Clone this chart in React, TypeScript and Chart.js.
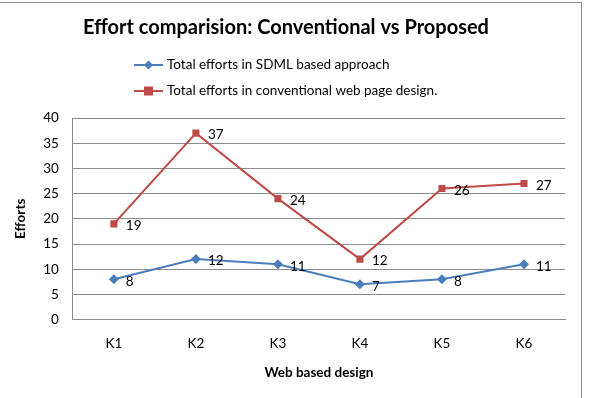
import React, { useEffect, useRef } from "react";
import { Chart, registerables } from "chart.js";

Chart.register(...registerables);

const categories = ["K1", "K2", "K3", "K4", "K5", "K6"];
const sdmlEfforts = [8, 12, 11, 7, 8, 11];
const conventionalEfforts = [19, 37, 24, 12, 26, 27];
const seriesNames = [
  "Total efforts in SDML based approach",
  "Total efforts in conventional web page design.",
];
const yTicks = [0, 5, 10, 15, 20, 25, 30, 35, 40];

const FONT = "Lato, 'Open Sans', sans-serif";
const BLUE = "#4A7EBB";
const RED = "#BE4B48";

// Stacked legend, one series per row, drawn above the plot area
const stackedLegend = {
  id: "stackedLegend",
  afterDraw(chart: any) {
    const { ctx, chartArea } = chart;
    const x0 = 134;
    const rowYs = [chartArea.top - 53, chartArea.top - 27];
    ctx.save();
    chart.data.datasets.forEach((ds: any, i: number) => {
      const y = rowYs[i];
      ctx.strokeStyle = ds.borderColor;
      ctx.lineWidth = 2;
      ctx.beginPath();
      ctx.moveTo(x0, y);
      ctx.lineTo(x0 + 29, y);
      ctx.stroke();
      ctx.fillStyle = ds.backgroundColor;
      const cx = x0 + 14.5;
      if (ds.pointStyle === "rect") {
        ctx.fillRect(cx - 4.5, y - 4.5, 9, 9);
      } else {
        ctx.beginPath();
        ctx.moveTo(cx, y - 4.5);
        ctx.lineTo(cx + 4.5, y);
        ctx.lineTo(cx, y + 4.5);
        ctx.lineTo(cx - 4.5, y);
        ctx.closePath();
        ctx.fill();
      }
      ctx.fillStyle = "#000";
      ctx.font = `13.5px ${FONT}`;
      ctx.textAlign = "left";
      ctx.textBaseline = "middle";
      ctx.fillText(ds.label, x0 + 33, y);
    });
    ctx.restore();
  },
};

// Value labels to the right of each point
const pointValues = {
  id: "pointValues",
  afterDatasetsDraw(chart: any) {
    const { ctx } = chart;
    ctx.save();
    ctx.font = `13.5px ${FONT}`;
    ctx.fillStyle = "#000";
    ctx.textAlign = "left";
    ctx.textBaseline = "middle";
    chart.data.datasets.forEach((ds: any, i: number) => {
      const meta = chart.getDatasetMeta(i);
      meta.data.forEach((pt: any, j: number) => {
        ctx.fillText(String(ds.data[j]), pt.x + 12, pt.y + 2);
      });
    });
    ctx.restore();
  },
};

export default function App() {
  const canvasRef = useRef<HTMLCanvasElement | null>(null);

  useEffect(() => {
    if (!canvasRef.current) return;
    const chart = new Chart(canvasRef.current, {
      type: "line",
      data: {
        labels: categories,
        datasets: [
          {
            label: seriesNames[0],
            data: sdmlEfforts,
            borderColor: BLUE,
            backgroundColor: BLUE,
            borderWidth: 2,
            pointStyle: "rectRot",
            pointRadius: 5,
            pointBorderWidth: 0,
            tension: 0,
          },
          {
            label: seriesNames[1],
            data: conventionalEfforts,
            borderColor: RED,
            backgroundColor: RED,
            borderWidth: 2,
            pointStyle: "rect",
            pointRadius: 5,
            pointBorderWidth: 0,
            tension: 0,
          },
        ],
      },
      options: {
        responsive: false,
        animation: false,
        layout: { padding: { left: 7, right: 25, top: 0, bottom: 17 } },
        plugins: {
          legend: { display: false },
          tooltip: { enabled: false },
          title: {
            display: true,
            text: "Effort comparision: Conventional vs Proposed",
            color: "#000",
            font: { family: FONT, size: 20, weight: "bold" },
            padding: { top: 16, bottom: 78 },
          },
        },
        scales: {
          x: {
            offset: true,
            grid: { display: false, drawTicks: false },
            border: { display: true, color: "#8C8C8C", width: 1 },
            ticks: { color: "#000", font: { family: FONT, size: 13.5 }, padding: 16 },
            title: {
              display: true,
              text: "Web based design",
              color: "#000",
              font: { family: FONT, size: 13.5, weight: "bold" },
              padding: { top: -3, bottom: 0 },
            },
          },
          y: {
            min: 0,
            max: 40,
            afterBuildTicks(scale: any) {
              scale.ticks = yTicks.map((v) => ({ value: v }));
            },
            grid: { color: "#8C8C8C", drawTicks: false, lineWidth: 1 },
            border: { display: true, color: "#8C8C8C", width: 1 },
            ticks: { color: "#000", font: { family: FONT, size: 13.5 }, padding: 14 },
            title: {
              display: true,
              text: "Efforts",
              color: "#000",
              font: { family: FONT, size: 13.5, weight: "bold" },
              padding: { top: 6, bottom: 0 },
            },
          },
        },
      },
      plugins: [pointValues, stackedLegend],
    });
    return () => chart.destroy();
  }, []);

  return (
    <div
      style={{
        position: "absolute",
        left: 0,
        top: 0,
        width: 590,
        height: 398,
        overflow: "hidden",
        background: "#fff",
      }}
    >
      <div
        style={{
          position: "absolute",
          left: 0,
          top: 2,
          width: 581,
          height: 420,
          borderTop: "1px solid #8C8C8C",
          borderRight: "1px solid #8C8C8C",
        }}
      />
      <canvas
        ref={canvasRef}
        width={590}
        height={398}
        style={{ position: "absolute", left: 0, top: 0 }}
      />
    </div>
  );
}
